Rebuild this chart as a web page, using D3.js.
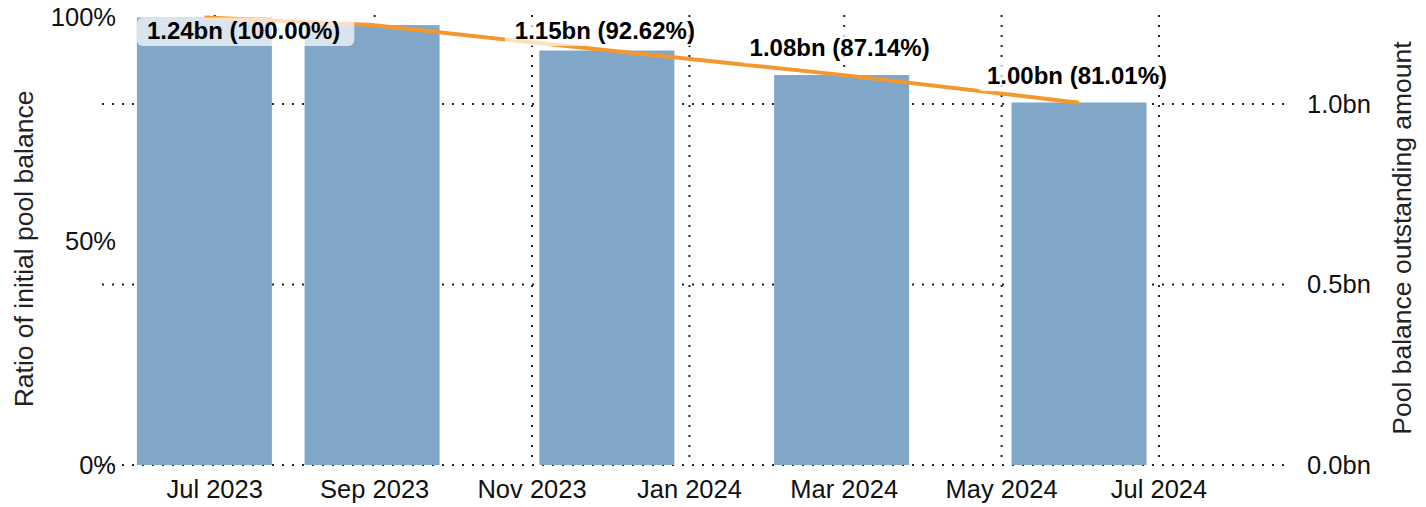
<!DOCTYPE html>
<html>
<head>
<meta charset="utf-8">
<script src="https://cdn.jsdelivr.net/npm/d3@7"></script>
<style>
  body { margin: 0; background: #fff; }
  svg text { font-family: "Liberation Sans", Arial, sans-serif; }
</style>
</head>
<body>
<div id="chart"></div>
<script>
// data
const reportDates = ["2023-06-27", "2023-08-31", "2023-11-30", "2024-02-29", "2024-05-31"];
const poolRatio = [100, 98.3, 92.62, 87.14, 81.01]; // % of initial pool balance
const poolAmount = [1.24, 1.219, 1.149, 1.081, 1.004]; // bn outstanding
const ratioTicks = [0, 50, 100];
const amountTicks = [0, 0.5, 1.0];

const width = 1426,
  height = 507;

const plot = { left: 102, right: 1288, top: 17.5, bottom: 465 };
const barWidth = 135;
const barColor = "#80a6c8",
  lineColor = "#f4982e";

const parseDate = d3.timeParse("%Y-%m-%d");
const rows = reportDates.map(function (d, i) {
  return { date: parseDate(d), ratio: poolRatio[i], amount: poolAmount[i] };
});

const svg = d3
  .select("#chart")
  .append("svg")
  .attr("width", width)
  .attr("height", height);

// time scale pinned to the Jul 2023 / Jul 2024 ticks
const xScale = d3
  .scaleTime()
  .domain([new Date(2023, 6, 1), new Date(2024, 6, 1)])
  .range([214.7, 1159]);

const yLeft = d3.scaleLinear().domain([0, 100]).range([plot.bottom, plot.top]);
const yRight = d3
  .scaleLinear()
  .domain([0, poolAmount[0]])
  .range([plot.bottom, plot.top]);

const xTicks = d3.timeMonth.every(2).range(new Date(2023, 6, 1), new Date(2024, 7, 1));

// grid
const grid = svg
  .append("g")
  .attr("class", "grid")
  .attr("stroke", "#222")
  .attr("stroke-width", 2)
  .attr("stroke-dasharray", "2 8");

grid
  .selectAll(".vgrid")
  .data(xTicks)
  .enter()
  .append("line")
  .attr("x1", (d) => xScale(d))
  .attr("x2", (d) => xScale(d))
  .attr("y1", 15)
  .attr("y2", plot.bottom);

grid
  .selectAll(".hgrid")
  .data(amountTicks)
  .enter()
  .append("line")
  .attr("x1", plot.left)
  .attr("x2", plot.right)
  .attr("y1", (d) => yRight(d))
  .attr("y2", (d) => yRight(d));

// bars
svg
  .append("g")
  .selectAll("rect")
  .data(rows)
  .enter()
  .append("rect")
  .attr("x", (d) => xScale(d.date) - barWidth / 2)
  .attr("width", barWidth)
  .attr("y", (d) => yLeft(d.ratio))
  .attr("height", (d) => plot.bottom - yLeft(d.ratio))
  .attr("fill", barColor);

// outstanding amount line
const amountLine = d3
  .line()
  .x((d) => xScale(d.date))
  .y((d) => yRight(d.amount));

svg
  .append("path")
  .datum(rows)
  .attr("d", amountLine)
  .attr("fill", "none")
  .attr("stroke", lineColor)
  .attr("stroke-width", 4)
  .attr("stroke-linejoin", "round");

// value labels, skipped when they would overlap the previous one
const fmtAmt = d3.format(".2f"),
  fmtPct = d3.format(".2f");
const labelG = svg.append("g");
const minBoxX = xScale(rows[0].date) - barWidth / 2;
var lastRight = -Infinity;

rows.forEach(function (d) {
  const g = labelG.append("g");
  const box = g.append("rect");
  const txt = g
    .append("text")
    .attr("font-size", "24px")
    .attr("font-weight", "bold")
    .attr("fill", "#000")
    .text(fmtAmt(d.amount) + "bn (" + fmtPct(d.ratio) + "%)");

  const tw = txt.node().getComputedTextLength();
  const bw = tw + 24,
    bh = 28.5;
  var bx = Math.max(xScale(d.date) - bw / 2, minBoxX);
  var baseline = Math.max(yRight(d.amount) - 19, plot.top + 21);

  if (bx < lastRight) {
    g.remove();
    return;
  }
  lastRight = bx + bw;

  box
    .attr("x", bx)
    .attr("y", baseline - 21)
    .attr("width", bw)
    .attr("height", bh)
    .attr("rx", 6)
    .attr("fill", "#fff")
    .attr("fill-opacity", 0.7);
  txt.attr("x", bx + 10).attr("y", baseline);
});

// axes text
const tickFont = "25.5px";

svg
  .append("g")
  .selectAll("text")
  .data(xTicks)
  .enter()
  .append("text")
  .attr("x", (d) => xScale(d))
  .attr("y", 498)
  .attr("text-anchor", "middle")
  .attr("font-size", tickFont)
  .attr("fill", "#111")
  .text(d3.timeFormat("%b %Y"));

svg
  .append("g")
  .selectAll("text")
  .data(ratioTicks)
  .enter()
  .append("text")
  .attr("x", 116)
  .attr("y", (d) => yLeft(d))
  .attr("dy", "0.35em")
  .attr("text-anchor", "end")
  .attr("font-size", tickFont)
  .attr("fill", "#111")
  .text((d) => d + "%");

svg
  .append("g")
  .selectAll("text")
  .data(amountTicks)
  .enter()
  .append("text")
  .attr("x", 1307)
  .attr("y", (d) => yRight(d))
  .attr("dy", "0.35em")
  .attr("text-anchor", "start")
  .attr("font-size", tickFont)
  .attr("fill", "#111")
  .text((d) => d3.format(".1f")(d) + "bn");

svg
  .append("text")
  .attr("transform", "translate(33,249) rotate(-90)")
  .attr("text-anchor", "middle")
  .attr("font-size", "26.5px")
  .attr("fill", "#222")
  .text("Ratio of initial pool balance");

svg
  .append("text")
  .attr("transform", "translate(1411,238) rotate(-90)")
  .attr("text-anchor", "middle")
  .attr("font-size", "26.5px")
  .attr("fill", "#222")
  .text("Pool balance outstanding amount");
</script>
</body>
</html>
